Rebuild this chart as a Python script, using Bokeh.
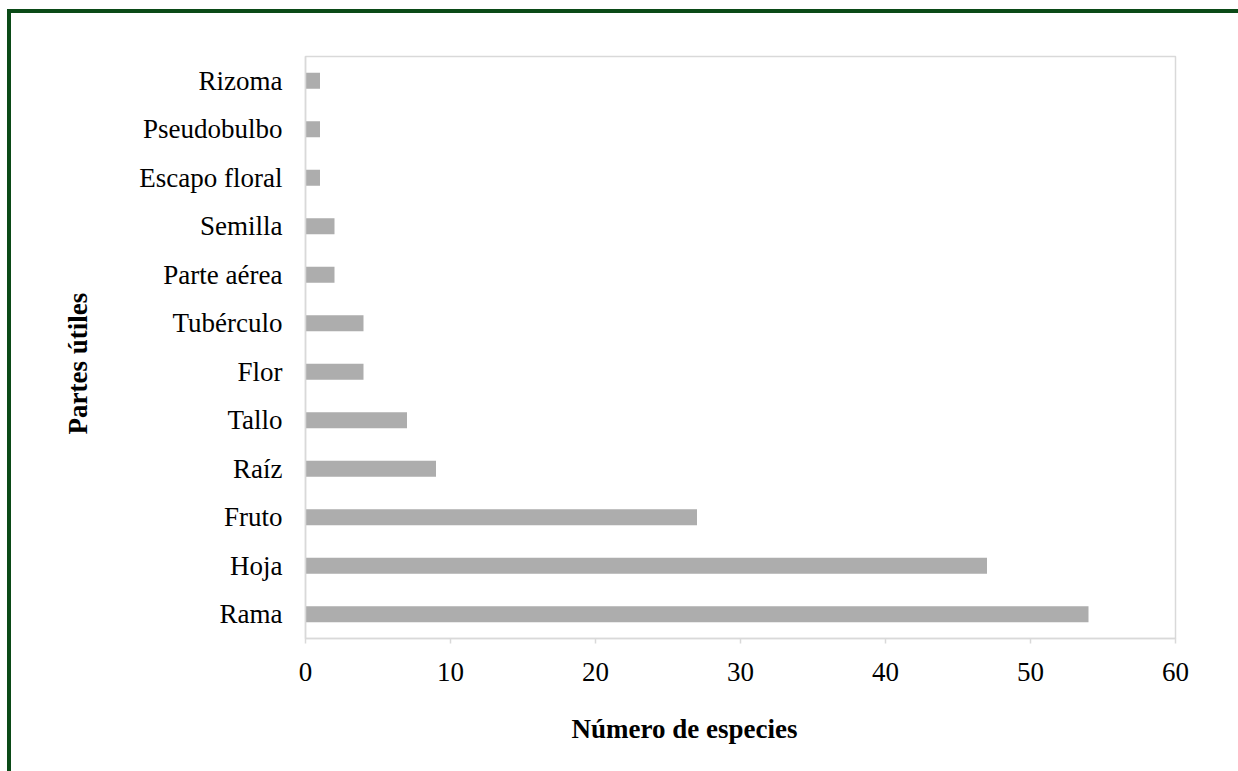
from bokeh.embed import file_html
from bokeh.models import FactorRange, Range1d, Title
from bokeh.plotting import figure
from bokeh.resources import INLINE

# Plant parts used, listed from the bottom row upward
parts = ["Rama", "Hoja", "Fruto", "Raíz", "Tallo", "Flor", "Tubérculo",
         "Parte aérea", "Semilla", "Escapo floral", "Pseudobulbo", "Rizoma"]
species = [54, 47, 27, 9, 7, 4, 4, 2, 2, 1, 1, 1]
x_ticks = [0, 10, 20, 30, 40, 50, 60]

FONT = "Liberation Serif"
GREEN = "#0b4a17"
GRID_GRAY = "#d9d9d9"

p = figure(
    width=1238, height=771,
    y_range=FactorRange(factors=parts, range_padding=0),
    x_range=Range1d(0, 60),
    output_backend="svg", toolbar_location=None, tools="",
    min_border_left=305, min_border_right=63,
    min_border_top=56, min_border_bottom=132,
)

p.hbar(y=parts, right=species, left=0, height=0.33,
       fill_color="#adadad", line_color=None)

# frame and axes
p.background_fill_color = "white"
p.border_fill_alpha = 0
p.outline_line_color = GRID_GRAY
p.outline_line_width = 1.5
p.xgrid.visible = False
p.ygrid.visible = False

xa = p.xaxis[0]
xa.ticker = x_ticks
xa.axis_line_color = GRID_GRAY
xa.axis_line_width = 1.5
xa.major_tick_line_color = GRID_GRAY
xa.major_tick_line_width = 1.5
xa.major_tick_out = 5
xa.major_tick_in = 0
xa.minor_tick_line_color = None
xa.major_label_text_font = FONT
xa.major_label_text_font_size = "27px"
xa.major_label_text_color = "black"
xa.major_label_standoff = 19

ya = p.yaxis[0]
ya.axis_line_color = GRID_GRAY
ya.axis_line_width = 1.5
ya.major_tick_line_color = None
ya.major_tick_out = 0
ya.major_tick_in = 0
ya.minor_tick_line_color = None
ya.major_label_text_font = FONT
ya.major_label_text_font_size = "27px"
ya.major_label_text_color = "black"
ya.major_label_standoff = 23

# axis titles as side titles, shifted along the frame with an offset
x_title = Title(text="Número de especies", align="left", offset=266,
                text_font=FONT, text_font_size="27px", text_font_style="bold",
                text_color="black", standoff=56)
y_title = Title(text="Partes útiles", align="left", offset=204,
                text_font=FONT, text_font_size="27px", text_font_style="bold",
                text_color="black", standoff=88)
p.add_layout(x_title, "below")
p.add_layout(y_title, "left")

# dark green rule along the top and left edges of the page
p.styles = {
    "background-color": "white",
    "box-shadow": f"inset 7px 9px 0 0 white, inset 11px 13px 0 0 {GREEN}",
}

open("out.html", "w").write(file_html(p, INLINE))
